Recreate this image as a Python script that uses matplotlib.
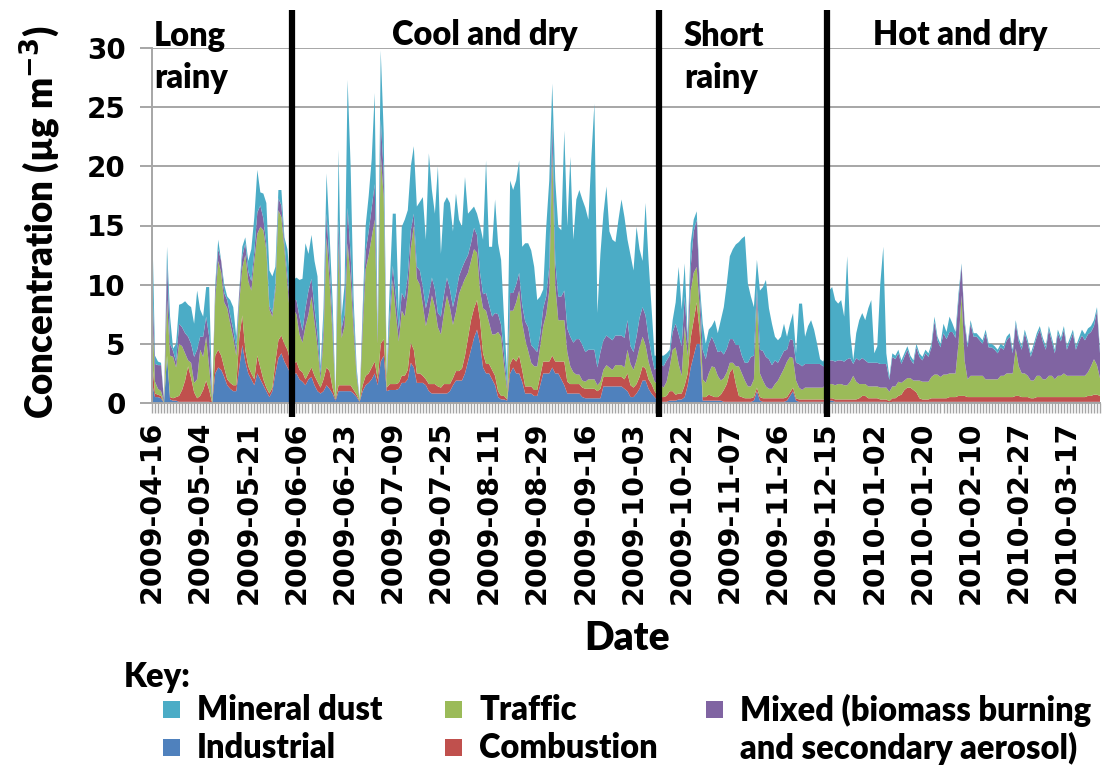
import numpy as np
import matplotlib
matplotlib.use("Agg")
import matplotlib.pyplot as plt
from matplotlib.patches import Rectangle

# ---- data (µg m-3), one value per sampling day ----
industrial = [
    1.7, 0.5, 0.5, 0.4, 0.0, 4.0, 0.3, 0.2, 0.2, 0.1,
    0.1, 0.1, 0.1, 0.1, 0.1, 0.1, 0.1, 0.1, 0.1, 0.1,
    0.0, 2.5, 3.0, 2.8, 2.2, 1.5, 1.2, 1.0, 1.0, 3.0,
    4.9, 3.5, 2.5, 2.0, 1.5, 2.5, 2.0, 1.5, 1.0, 0.5,
    1.0, 2.5, 3.8, 4.2, 3.5, 3.0, 2.5, 2.5, 2.5, 2.0,
    1.8, 1.5, 2.0, 2.2, 1.5, 1.0, 0.8, 1.0, 1.5, 1.2,
    0.8, 0.2, 1.0, 1.0, 1.0, 1.0, 1.0, 0.8, 0.5, 0.1,
    1.0, 1.5, 1.7, 2.0, 2.5, 1.5, 3.5, 4.0, 1.0, 1.1,
    1.1, 1.1, 1.2, 1.7, 1.7, 2.0, 3.4, 3.0, 1.7, 1.7,
    1.7, 1.5, 1.0, 0.8, 0.8, 0.8, 0.8, 0.8, 0.8, 1.0,
    1.5, 1.9, 1.9, 1.9, 2.5, 3.5, 4.5, 5.5, 6.2, 5.0,
    3.0, 2.5, 2.5, 2.0, 1.5, 0.5, 0.3, 0.3, 0.2, 2.5,
    3.0, 2.5, 2.5, 1.8, 0.8, 0.8, 0.8, 0.6, 0.6, 1.5,
    2.5, 2.5, 2.5, 3.0, 2.5, 2.5, 2.0, 1.5, 0.8, 0.8,
    0.8, 0.8, 0.8, 0.5, 0.4, 0.4, 0.4, 0.4, 0.4, 0.4,
    1.4, 1.4, 1.4, 1.4, 1.4, 1.4, 1.4, 1.2, 1.0, 0.5,
    0.5, 0.8, 1.2, 1.9, 1.9, 1.2, 0.8, 0.5, 0.2, 0.1,
    0.1, 0.1, 0.2, 0.2, 0.2, 0.3, 0.3, 0.5, 1.5, 3.0,
    4.0, 5.0, 5.0, 0.2, 0.2, 0.2, 0.2, 0.2, 0.2, 0.2,
    0.1, 0.1, 0.1, 0.1, 0.1, 0.1, 0.1, 0.1, 0.1, 0.1,
    0.2, 1.0, 0.2, 0.1, 0.1, 0.1, 0.1, 0.1, 0.1, 0.1,
    0.1, 0.2, 0.6, 1.0, 0.2, 0.1, 0.1, 0.1, 0.1, 0.1,
    0.1, 0.1, 0.1, 0.1, 0.1, 0.2, 0.2, 0.1, 0.1, 0.1,
    0.1, 0.1, 0.1, 0.1, 0.1, 0.1, 0.1, 0.1, 0.1, 0.1,
    0.1, 0.1, 0.1, 0.1, 0.1, 0.05, 0.1, 0.1, 0.1, 0.1,
    0.1, 0.1, 0.1, 0.1, 0.1, 0.1, 0.1, 0.1, 0.1, 0.1,
    0.1, 0.1, 0.1, 0.1, 0.1, 0.1, 0.1, 0.1, 0.1, 0.1,
    0.1, 0.1, 0.1, 0.1, 0.1, 0.1, 0.1, 0.1, 0.1, 0.1,
    0.1, 0.1, 0.1, 0.1, 0.1, 0.1, 0.1, 0.1, 0.1, 0.1,
    0.1, 0.1, 0.1, 0.1, 0.1, 0.1, 0.1, 0.1, 0.1, 0.1,
    0.1, 0.1, 0.1, 0.1, 0.1, 0.1, 0.1, 0.1, 0.1, 0.1,
    0.1, 0.1, 0.1, 0.1, 0.1, 0.1,
]

combustion = [
    2.0, 0.3, 0.2, 0.2, 0.0, 0.0, 0.2, 0.2, 0.3, 0.5,
    1.0, 1.8, 3.0, 2.0, 0.8, 0.3, 0.5, 1.0, 1.8, 1.0,
    0.0, 1.5, 1.5, 1.2, 0.8, 0.5, 0.5, 0.5, 0.5, 2.5,
    2.5, 1.0, 0.6, 0.5, 0.5, 1.5, 1.0, 0.5, 0.3, 0.3,
    0.3, 1.0, 1.5, 1.5, 1.5, 1.5, 1.0, 0.8, 1.0, 0.8,
    0.8, 0.5, 0.5, 0.8, 0.8, 0.8, 0.5, 1.0, 1.5, 1.5,
    0.5, 0.1, 0.5, 0.5, 0.5, 0.5, 0.5, 0.3, 0.2, 0.05,
    0.5, 0.8, 0.8, 1.0, 1.0, 0.5, 1.5, 1.4, 0.3, 0.5,
    0.5, 0.5, 0.5, 0.6, 0.6, 0.8, 1.7, 1.5, 0.8, 0.8,
    0.6, 0.5, 0.6, 0.8, 0.8, 0.6, 0.5, 0.8, 0.8, 0.6,
    0.6, 0.8, 0.8, 1.0, 1.5, 2.0, 2.5, 2.5, 2.5, 2.0,
    1.2, 0.8, 0.8, 0.8, 0.8, 0.5, 0.3, 0.3, 0.1, 0.8,
    0.8, 1.0, 1.5, 1.0, 0.6, 0.6, 0.6, 0.5, 0.5, 0.8,
    1.0, 1.0, 1.0, 1.0, 1.0, 1.0, 1.5, 2.0, 1.0, 0.8,
    0.8, 0.8, 0.8, 0.8, 0.8, 0.8, 0.8, 0.8, 0.6, 0.8,
    0.8, 0.8, 0.8, 0.8, 0.8, 0.8, 0.8, 0.8, 1.5, 1.0,
    0.8, 0.8, 1.0, 1.2, 1.0, 0.8, 0.8, 0.5, 0.4, 0.4,
    0.4, 0.5, 0.8, 0.8, 0.5, 0.5, 0.5, 1.0, 1.0, 2.5,
    3.0, 3.5, 1.0, 0.3, 0.3, 0.5, 0.4, 0.3, 0.3, 0.5,
    1.0, 1.5, 2.5, 2.8, 1.5, 0.5, 0.4, 0.3, 0.3, 0.3,
    0.3, 0.3, 0.3, 0.3, 0.3, 0.3, 0.3, 0.3, 0.3, 0.3,
    0.3, 0.3, 0.3, 0.3, 0.2, 0.2, 0.2, 0.2, 0.2, 0.2,
    0.2, 0.2, 0.2, 0.2, 0.1, 0.2, 0.2, 0.2, 0.2, 0.2,
    0.2, 0.2, 0.2, 0.2, 0.2, 0.3, 0.5, 0.5, 0.3, 0.3,
    0.3, 0.3, 0.2, 0.2, 0.2, 0.1, 0.3, 0.3, 0.5, 0.6,
    1.0, 1.2, 1.2, 1.0, 0.8, 0.3, 0.2, 0.2, 0.2, 0.3,
    0.3, 0.3, 0.3, 0.3, 0.3, 0.4, 0.4, 0.4, 0.5, 0.5,
    0.5, 0.4, 0.4, 0.4, 0.4, 0.4, 0.4, 0.4, 0.4, 0.4,
    0.4, 0.4, 0.4, 0.4, 0.4, 0.4, 0.4, 0.5, 0.5, 0.4,
    0.4, 0.4, 0.3, 0.3, 0.4, 0.4, 0.4, 0.4, 0.4, 0.4,
    0.4, 0.4, 0.4, 0.4, 0.4, 0.4, 0.4, 0.4, 0.4, 0.4,
    0.4, 0.5, 0.5, 0.6, 0.6, 0.5,
]

traffic = [
    5.0, 1.0, 0.5, 0.4, 0.1, 4.7, 3.5, 3.5, 2.5, 4.4,
    3.7, 2.3, 0.5, 1.3, 0.8, 1.6, 3.9, 2.8, 3.7, 1.9,
    0.3, 4.7, 7.5, 7.0, 5.5, 6.0, 5.0, 4.0, 2.5, 3.0,
    4.0, 8.0, 7.2, 7.0, 10.0, 10.3, 11.9, 12.6, 11.6, 7.1,
    6.0, 6.0, 11.0, 10.0, 8.0, 5.5, 3.5, 4.6, 4.0, 3.0,
    2.5, 4.5, 5.0, 6.0, 4.5, 3.0, 0.7, 3.5, 11.0, 7.5,
    4.5, 0.1, 12.0, 4.0, 5.0, 12.0, 9.0, 5.0, 1.5, 0.1,
    4.5, 9.0, 10.0, 11.0, 12.0, 3.0, 16.0, 12.0, 0.8, 5.0,
    8.8, 6.0, 3.5, 5.5, 5.0, 6.5, 8.0, 10.5, 8.0, 7.5,
    6.0, 4.5, 6.0, 7.5, 6.5, 5.0, 4.5, 6.0, 7.5, 6.5,
    4.5, 5.0, 6.5, 7.0, 6.5, 5.5, 5.0, 5.0, 4.0, 2.5,
    3.8, 4.5, 3.5, 3.0, 3.5, 5.0, 5.0, 2.5, 0.8, 4.5,
    4.0, 5.0, 5.5, 4.0, 4.0, 3.0, 2.0, 2.0, 2.0, 2.5,
    3.0, 4.0, 6.0, 17.5, 6.5, 3.5, 3.5, 3.5, 2.5, 1.5,
    1.0, 0.8, 0.8, 0.6, 0.6, 0.8, 0.8, 0.8, 0.5, 0.6,
    0.6, 1.0, 0.8, 0.6, 1.0, 1.0, 1.0, 1.0, 2.0, 1.8,
    1.5, 2.0, 2.5, 2.5, 2.0, 1.5, 1.0, 0.8, 1.0, 1.0,
    0.8, 1.2, 2.0, 3.5, 4.0, 2.5, 1.5, 5.0, 1.5, 4.0,
    4.0, 3.0, 2.0, 1.5, 1.2, 1.8, 2.5, 2.5, 1.8, 1.2,
    1.0, 1.0, 0.8, 0.5, 1.5, 2.5, 2.0, 1.5, 1.0, 1.0,
    1.5, 7.5, 2.0, 1.5, 1.0, 0.8, 0.8, 1.2, 1.5, 2.0,
    2.5, 3.0, 3.0, 2.5, 1.5, 1.0, 0.8, 1.0, 1.0, 1.0,
    1.0, 1.0, 1.0, 1.0, 1.5, 1.2, 1.2, 1.2, 1.3, 1.3,
    1.2, 1.2, 1.5, 2.0, 1.5, 1.2, 1.0, 1.0, 1.0, 1.0,
    1.0, 1.0, 1.0, 1.0, 1.0, 0.8, 1.0, 1.0, 1.2, 1.0,
    0.8, 0.8, 0.8, 0.8, 1.0, 1.5, 1.5, 1.5, 1.5, 1.8,
    2.0, 2.0, 1.8, 2.0, 2.0, 2.0, 2.0, 2.0, 4.5, 8.5,
    3.0, 1.5, 1.8, 1.8, 1.8, 1.8, 1.8, 1.5, 1.5, 1.5,
    1.5, 1.5, 1.8, 1.8, 2.0, 2.0, 2.0, 4.0, 2.5, 2.0,
    2.0, 1.8, 1.5, 1.5, 1.8, 1.8, 1.5, 1.5, 1.8, 1.8,
    1.5, 1.8, 1.8, 2.0, 1.8, 1.8, 1.8, 1.8, 1.8, 1.8,
    1.8, 2.0, 2.5, 3.0, 2.5, 1.5,
]

mixed = [
    2.3, 1.5, 2.0, 2.2, 0.1, 3.3, 1.0, 0.5, 0.5, 1.7,
    1.6, 1.7, 2.0, 1.6, 2.2, 2.5, 1.1, 1.7, 1.7, 2.6,
    0.1, 0.8, 1.0, 1.0, 0.8, 0.7, 0.7, 0.7, 0.6, 0.8,
    1.0, 1.0, 0.8, 0.8, 0.8, 1.8, 1.8, 1.0, 0.5, 0.3,
    0.3, 0.5, 1.0, 1.0, 0.5, 0.8, 1.0, 0.8, 1.2, 1.5,
    1.0, 1.5, 2.0, 1.5, 1.2, 1.0, 0.5, 1.0, 2.0, 1.5,
    1.0, 0.05, 2.0, 0.8, 1.0, 3.0, 2.0, 1.0, 0.3, 0.05,
    1.0, 1.5, 2.0, 2.5, 3.0, 0.5, 3.0, 2.0, 0.2, 1.0,
    1.2, 1.5, 1.0, 1.5, 1.5, 1.5, 1.5, 1.0, 1.0, 1.2,
    1.5, 1.5, 1.5, 1.5, 1.5, 1.2, 1.5, 1.5, 1.5, 1.5,
    1.5, 1.5, 1.5, 1.5, 1.5, 1.5, 1.5, 1.8, 1.5, 1.5,
    1.2, 1.5, 1.5, 1.5, 1.8, 1.5, 1.0, 1.0, 0.4, 1.5,
    1.5, 1.5, 1.5, 1.5, 1.5, 2.0, 1.5, 1.5, 1.2, 1.0,
    1.5, 1.5, 2.0, 2.5, 2.0, 2.0, 2.0, 2.5, 2.0, 2.5,
    2.5, 3.0, 3.0, 3.0, 2.5, 2.5, 2.5, 2.5, 1.5, 2.5,
    2.5, 2.5, 2.5, 2.5, 2.5, 2.5, 2.5, 2.5, 2.5, 1.5,
    1.5, 2.0, 2.5, 2.5, 2.5, 2.0, 1.5, 1.0, 1.5, 1.8,
    1.8, 1.8, 1.0, 1.5, 2.0, 2.5, 2.5, 2.5, 1.0, 2.0,
    3.5, 4.0, 1.5, 2.5, 2.0, 2.5, 2.5, 2.0, 2.0, 2.5,
    2.0, 2.0, 2.0, 2.0, 1.8, 1.8, 1.5, 1.5, 2.0, 2.5,
    2.0, 1.0, 2.0, 2.5, 2.5, 2.5, 2.0, 2.0, 1.5, 1.5,
    1.5, 1.0, 1.5, 1.5, 1.5, 2.0, 2.0, 2.0, 2.0, 2.0,
    2.0, 2.0, 2.0, 1.8, 1.5, 2.0, 2.0, 2.0, 2.0, 2.0,
    2.0, 2.2, 2.0, 1.0, 2.0, 2.0, 2.2, 2.0, 2.0, 2.0,
    2.0, 2.0, 2.0, 2.0, 2.0, 1.0, 2.5, 2.3, 2.4, 1.6,
    2.0, 2.4, 1.6, 1.4, 2.8, 2.0, 1.8, 2.4, 2.1, 2.5,
    4.5, 2.9, 2.5, 3.5, 3.0, 3.5, 3.5, 3.0, 3.7, 2.5,
    3.1, 2.7, 4.4, 3.3, 3.3, 3.0, 2.7, 3.9, 2.7, 2.7,
    2.5, 2.2, 2.4, 2.2, 2.8, 3.1, 1.7, 2.1, 2.1, 2.0,
    3.4, 2.7, 2.0, 2.8, 3.3, 3.9, 3.2, 2.5, 3.9, 2.9,
    2.2, 3.6, 2.9, 3.7, 2.2, 2.9, 3.6, 2.2, 2.9, 3.4,
    3.0, 3.2, 2.9, 2.8, 4.6, 2.1,
]

mineral_dust = [
    5.2, 0.7, 0.3, 0.2, 0.1, 1.2, 2.3, 0.2, 1.5, 1.6,
    2.0, 2.7, 2.7, 3.1, 2.8, 5.0, 2.3, 1.7, 2.5, 4.2,
    0.1, 0.5, 0.8, 0.0, 0.7, 0.3, 1.3, 1.9, 1.0, 0.2,
    0.8, 0.5, 0.9, 2.7, 2.9, 3.6, 1.1, 2.1, 3.5, 3.0,
    3.1, 1.5, 0.7, 1.3, 0.5, 2.2, 2.0, 1.7, 1.9, 3.1,
    4.4, 5.5, 3.1, 3.7, 4.0, 4.9, 0.5, 1.5, 3.4, 2.6,
    1.9, 0.05, 5.9, 1.0, 2.5, 10.8, 7.5, 1.6, 0.5, 0.0,
    1.0, 2.2, 3.0, 4.1, 7.7, 0.4, 5.8, 3.4, 0.2, 2.4,
    4.4, 6.9, 1.4, 5.6, 6.7, 5.5, 5.4, 5.7, 5.1, 5.8,
    7.6, 5.8, 12.0, 7.4, 6.4, 12.4, 5.3, 7.8, 6.8, 7.3,
    6.4, 8.5, 4.8, 3.5, 7.1, 3.5, 2.8, 1.8, 1.8, 4.0,
    4.6, 11.2, 4.9, 5.9, 9.6, 6.0, 5.5, 2.9, 1.0, 9.5,
    8.7, 8.8, 9.5, 4.9, 6.6, 7.1, 8.0, 6.9, 4.4, 3.2,
    1.6, 5.9, 7.3, 3.0, 6.8, 5.9, 5.6, 13.5, 8.6, 15.2,
    8.7, 11.8, 12.6, 12.3, 12.2, 11.0, 16.3, 20.8, 4.6, 8.3,
    10.7, 12.6, 9.0, 8.5, 7.9, 9.8, 11.5, 10.2, 6.8, 7.7,
    6.9, 9.3, 5.8, 3.9, 9.5, 6.5, 3.9, 1.2, 0.9, 0.7,
    0.9, 0.6, 0.5, 1.0, 1.8, 5.7, 3.1, 2.8, 0.6, 2.0,
    1.0, 0.7, 0.6, 2.2, 1.3, 1.2, 0.9, 2.0, 1.6, 2.6,
    4.0, 5.5, 7.0, 7.6, 8.5, 8.7, 9.9, 10.7, 6.7, 5.1,
    4.1, 2.3, 5.0, 5.4, 6.5, 4.3, 3.5, 2.0, 1.9, 1.7,
    2.3, 1.1, 1.3, 2.3, 0.8, 5.1, 5.3, 2.3, 3.2, 3.7,
    2.9, 1.7, 0.4, 0.4, 0.8, 5.9, 6.2, 5.2, 4.8, 5.1,
    3.8, 8.7, 2.1, 0.3, 2.1, 3.4, 3.8, 3.4, 4.6, 5.3,
    0.8, 1.4, 6.8, 9.9, 0.9, 0.25, 0.3, 0.3, 0.3, 0.3,
    0.3, 0.3, 0.3, 0.3, 0.3, 0.3, 0.3, 0.3, 0.3, 0.3,
    0.4, 0.3, 0.3, 0.8, 0.6, 1.3, 0.7, 0.5, 0.5, 0.2,
    0.3, 0.3, 0.3, 0.3, 0.3, 0.3, 0.3, 0.3, 0.3, 0.3,
    0.3, 0.3, 0.3, 0.3, 0.3, 0.3, 0.3, 0.3, 0.3, 0.3,
    0.3, 0.3, 0.3, 0.3, 0.3, 0.3, 0.3, 0.3, 0.3, 0.3,
    0.3, 0.3, 0.3, 0.3, 0.3, 0.3, 0.3, 0.3, 0.3, 0.5,
    0.5, 0.5, 0.5, 0.5, 0.3, 0.3,
]

date_labels = [
    "2009-04-16", "2009-05-04", "2009-05-21", "2009-06-06", "2009-06-23",
    "2009-07-09", "2009-07-25", "2009-08-11", "2009-08-29", "2009-09-16",
    "2009-10-03", "2009-10-22", "2009-11-07", "2009-11-26", "2009-12-15",
    "2010-01-02", "2010-01-20", "2010-02-10", "2010-02-27", "2010-03-17",
]
label_step = 16

# season boundaries (category position) and labels
season_edges = [46.4, 168.5, 224.2]
season_names = ["Long\nrainy", "Cool and dry", "Short\nrainy", "Hot and dry"]

series_names = ["Industrial", "Combustion", "Traffic",
                "Mixed (biomass burning\nand secondary aerosol)", "Mineral dust"]
colors = ["#4F81BD", "#C0504D", "#9BBB59", "#8064A2", "#4BACC6"]

CAL = ["Lato", "DejaVu Sans"]
TICKF = "DejaVu Sans"
GRID = "#a6a6a6"
WEIGHT = "heavy"

n = len(industrial)
x = np.arange(n)

W, H = 1104, 769
fig = plt.figure(figsize=(W / 100, H / 100), dpi=100)
fig.patch.set_facecolor("white")


def fx(px):
    return px / W


def fy(py):
    return 1 - py / H


ax = fig.add_axes([fx(152), fy(403), fx(1100) - fx(152), fy(48) - fy(403)])

ax.stackplot(x, industrial, combustion, traffic, mixed, mineral_dust,
             colors=colors, linewidth=0, zorder=2)

ax.set_xlim(0, n - 1)
ax.set_ylim(0, 30)
ax.set_yticks(np.arange(0, 31, 5))
ax.set_yticklabels([str(v) for v in range(0, 31, 5)],
                   fontfamily=TICKF, fontweight="bold", fontsize=20)
ax.yaxis.grid(True, color=GRID, linewidth=1.4, zorder=0)
ax.set_axisbelow(True)

ax.set_xticks(x)
ax.set_xticklabels([date_labels[i // label_step] if i % label_step == 0 else ""
                    for i in x],
                   rotation=90, fontfamily=TICKF, fontweight="bold", fontsize=20.5)
ax.tick_params(axis="x", length=7, width=1, color=GRID, pad=6)
ax.tick_params(axis="y", length=9, width=1.4, color=GRID, pad=10)

for s in ["top", "right"]:
    ax.spines[s].set_visible(False)
for s in ["left", "bottom"]:
    ax.spines[s].set_color(GRID)
    ax.spines[s].set_linewidth(1.4)

for edge in season_edges:
    ax.plot([edge, edge], [-1.2, 33.2], color="black", lw=4.5,
            clip_on=False, zorder=5, solid_capstyle="butt")

txt = dict(fontfamily=CAL, fontweight=WEIGHT, fontsize=23.5, color="black")
fig.text(fx(154), fy(57), season_names[0], ha="left", va="center",
         linespacing=1.4, **txt)
fig.text(fx(485), fy(35), season_names[1], ha="center", va="center", **txt)
fig.text(fx(684), fy(57), season_names[2], ha="left", va="center",
         linespacing=1.4, **txt)
fig.text(fx(960), fy(35), season_names[3], ha="center", va="center", **txt)

fig.text(fx(40), fy(222), "Concentration (µg m$^{\\mathbf{-3}}$)", rotation=90,
         ha="center", va="center", fontfamily=CAL, fontweight=WEIGHT,
         fontsize=26.5)
fig.text(fx(627), fy(638), "Date", ha="center", va="center",
         fontfamily=CAL, fontweight=WEIGHT, fontsize=28)

# key
key_txt = dict(txt, fontsize=23.5)
fig.text(fx(124), fy(677), "Key:", ha="left", va="center", **key_txt)
key_items = [
    (4, 163, 710), (0, 163, 748),
    (2, 445, 710), (1, 445, 748),
    (3, 706, 710),
]
for idx, px, py in key_items:
    fig.add_artist(Rectangle((fx(px), fy(py + 8)), fx(17), 17 / H,
                             transform=fig.transFigure, facecolor=colors[idx],
                             edgecolor="none"))
    lines = series_names[idx].split("\n")
    for k, line in enumerate(lines):
        fig.text(fx(px + 34), fy(py + 38 * k), line, ha="left", va="center",
                 **key_txt)

fig.savefig("out.png", dpi=100, facecolor="white")
